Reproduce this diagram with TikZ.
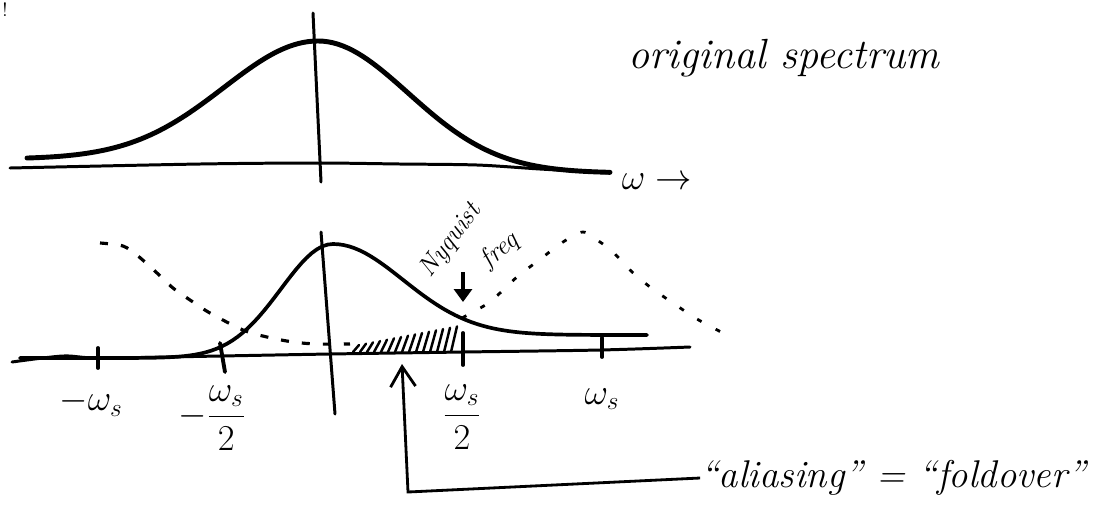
\documentclass[tikz,border=0pt]{standalone}
\usepackage{amsmath}
\usetikzlibrary{arrows.meta}

\begin{document}
\begin{tikzpicture}[
    x=0.02cm,
    y=-0.02cm,
    every node/.style={
        inner sep=0pt,
        align=center
    },
    axisline/.style={
        line width=1.7pt,
        line cap=round
    },
    spectrum/.style={
        line width=2.8pt,
        line cap=round
    },
    sampled/.style={
        line width=2.1pt,
        line cap=round
    },
    replica/.style={
        line width=1.8pt,
        dash pattern=on 0.16cm off 0.26cm
    },
    replicathin/.style={
        line width=1.6pt,
        dash pattern=on 0.1cm off 0.32cm
    },
    tickmark/.style={
        line width=2.2pt,
        line cap=round
    },
    hatchmark/.style={
        line width=1.4pt,
        line cap=round
    },
    pointer/.style={
        line width=1.6pt,
        -{Straight Barb[length=4mm,width=5mm,line width=1.6pt]}
    },
    nyqpointer/.style={
        line width=2.6pt,
        -{Triangle[length=2.6mm,width=3.6mm]}
    },
    handtext/.style={
        font=\fontsize{24}{28}\selectfont\itshape
    },
    freqlabel/.style={
        font=\fontsize{20}{24}\selectfont
    },
    nyqtext/.style={
        font=\fontsize{15}{17}\selectfont\itshape
    }
]

\useasboundingbox (0,0) rectangle (1095,515);

\node[font=\fontsize{11}{13}\selectfont] (mark) at (5,10) {!};

% original spectrum
\draw[axisline]
    plot[smooth] coordinates {(10,168) (200,164) (317,163) (400,164) (477,165) (540,169) (610,173)};
\draw[axisline] (313,13) -- (321,182);
\draw[spectrum]
    plot[domain=27:318, samples=60] (\x, {159-118*exp(-0.5*((\x-318)/94)^2)})
    --
    plot[domain=318:610, samples=60] (\x, {173-132*exp(-0.5*((\x-318)/90)^2)});

\node[freqlabel] (omega) at (657,182) {$\omega\rightarrow$};
\node[handtext] (original) at (784,58) {original spectrum};

% sampled spectrum
\draw[axisline]
    plot[smooth] coordinates {(12,362) (63,356) (100,358) (220,356) (330,354) (463,352) (600,350) (690,347)};
\draw[axisline] (321,232) -- (335,414);

\draw[tickmark] (98,348) -- (98,368);
\draw[tickmark] (220,343) -- (225,372);
\draw[tickmark] (463,333) -- (463,365);
\draw[tickmark] (602,338) -- (602,357);

\draw[sampled]
    plot[domain=20:333, samples=60] (\x, {358-114*exp(-0.5*((\x-333)/52)^2)})
    --
    plot[domain=333:647, samples=60] (\x, {335-91*exp(-0.5*((\x-333)/70)^2)});

\draw[replica]
    plot[smooth] coordinates {(100,243) (123,246) (138,256) (157,273) (173,288) (193,302)
        (210,313) (243,330) (267,337) (293,342) (317,344) (350,344)};
\draw[replicathin]
    plot[smooth] coordinates {(462,318) (487,304) (500,293) (517,277) (543,257) (563,242)
        (583,232) (600,242) (613,252) (630,270) (650,287) (670,301) (697,319) (723,333)};

\foreach \x in {356,363,...,454}
    \draw[hatchmark] (\x-3,352) -- (\x+3,{345-(\x-356)*0.19});

\node[freqlabel] (minusws) at (91,403) {$-\omega_s$};
\node[freqlabel] (minushalf) at (212,418) {$-\dfrac{\omega_s}{2}$};
\node[freqlabel] (plushalf) at (462,417) {$\dfrac{\omega_s}{2}$};
\node[freqlabel] (plusws) at (602,399) {$\omega_s$};

% nyquist
\node[nyqtext, rotate=53] (nyquist) at (451,241) {Nyquist};
\node[nyqtext, rotate=40] (freq) at (500,251) {freq};
\coordinate (nyqtop) at (463,272);
\coordinate (nyq) at (463,302);
\draw[nyqpointer] (nyqtop) -- (nyq);

% foldover
\node[handtext, font=\fontsize{22}{26}\selectfont\itshape] (alias) at (893,478) {``aliasing'' = ``foldover''};
\coordinate (corner) at (408,492);
\coordinate (fold) at (402,364);
\draw[pointer]
    (alias.west)
    --
    (corner)
    --
    (fold);

\end{tikzpicture}
\end{document}
